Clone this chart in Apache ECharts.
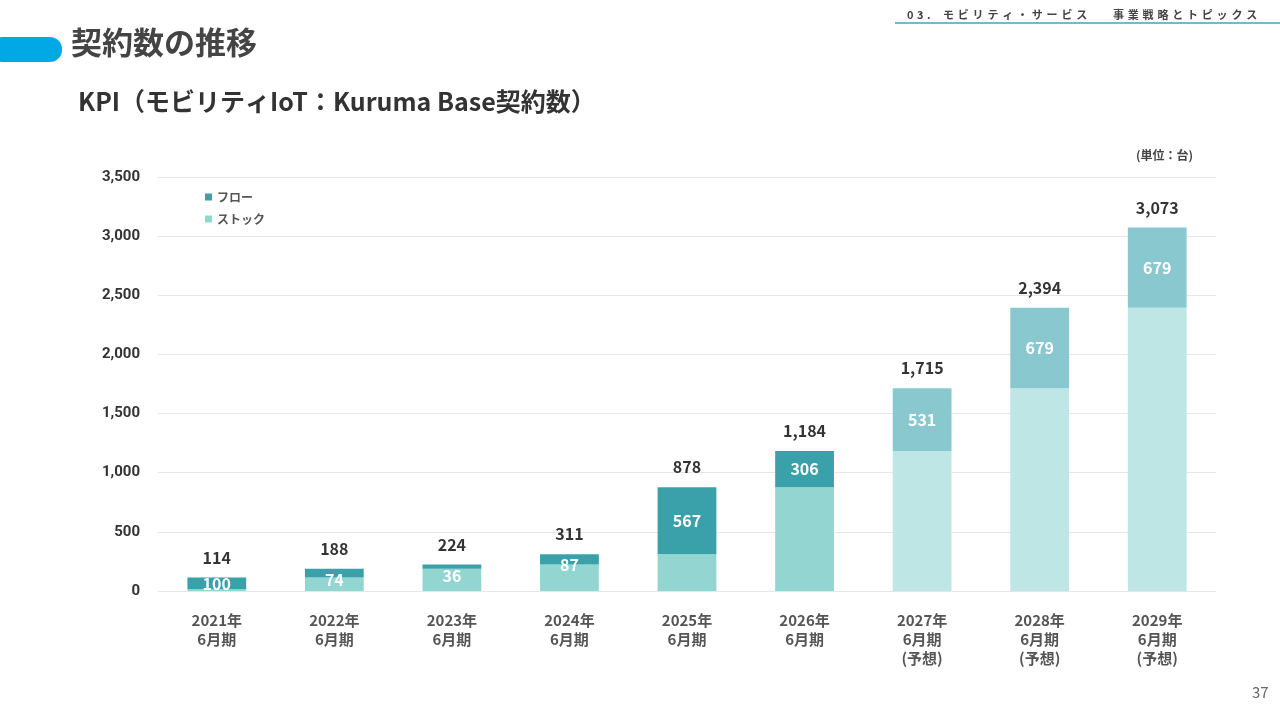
<!DOCTYPE html>
<html>
<head>
<meta charset="utf-8">
<script src="https://cdn.jsdelivr.net/npm/echarts@6/dist/echarts.min.js"></script>
<style>
html, body { margin: 0; padding: 0; background: #fff; }
#main { width: 1280px; height: 720px; }
</style>
</head>
<body>
<div id="main"></div>
<script>
var categories = ['2021年\n6月期', '2022年\n6月期', '2023年\n6月期', '2024年\n6月期', '2025年\n6月期',
    '2026年\n6月期', '2027年\n6月期\n(予想)', '2028年\n6月期\n(予想)', '2029年\n6月期\n(予想)'];
var flow = [100, 74, 36, 87, 567, 306, 531, 679, 679];
var stock = [14, 114, 188, 224, 311, 878, 1184, 1715, 2394];
var totals = [114, 188, 224, 311, 878, 1184, 1715, 2394, 3073];
var forecast = [false, false, false, false, false, false, true, true, true];

var font = '"Noto Sans CJK JP", "Noto Sans", sans-serif';

// thin flow bands: the value label sits a little below the band, as in the slide
var flowLabelShift = { 1: 7, 2: 9, 3: 6 };

var chart = echarts.init(document.getElementById('main'));

// letter-spaced header, one glyph at a time
var headerText = '03. モビリティ・サービス　事業戦略とトピックス';
var headerGlyphs = [];
var hx = 907;
headerText.split('').forEach(function (ch) {
    if (ch === ' ') { hx += 6; return; }
    if (ch === '　') { hx += 22; return; }
    headerGlyphs.push({
        type: 'text', x: hx, y: 15,
        style: { text: ch, font: 'bold 11px ' + font, fill: '#444', verticalAlign: 'middle' }
    });
    hx += ch.charCodeAt(0) < 128 ? 10 : 14.8;
});

var option = {
    backgroundColor: '#fff',
    textStyle: { fontFamily: font },
    animation: false,
    graphic: [
        { type: 'rect', shape: { x: -10, y: 37, width: 72, height: 25, r: 12 }, style: { fill: '#00a8e6' } },
        { type: 'text', left: 71, top: 27, style: { text: '契約数の推移', font: 'bold 31px ' + font, fill: '#444' } },
        { type: 'text', left: 78, top: 89, style: { text: 'KPI（モビリティIoT：Kuruma Base契約数）', font: 'bold 25px ' + font, fill: '#333' } },
        { type: 'group', children: headerGlyphs },
        { type: 'line', shape: { x1: 895, y1: 23, x2: 1280, y2: 23 }, style: { stroke: '#3aa6bd', lineWidth: 1.5 } },
        { type: 'text', left: 1136, top: 149, style: { text: '(単位：台)', font: 'bold 12px ' + font, fill: '#444' } },
        { type: 'text', left: 1252, top: 685, style: { text: '37', font: '15px ' + font, fill: '#666' } }
    ],
    grid: { left: 158, right: 64, top: 177, bottom: 129 },
    legend: {
        data: ['フロー', 'ストック'],
        orient: 'vertical',
        left: 200,
        top: 186,
        itemWidth: 7,
        itemHeight: 7,
        itemGap: 10,
        icon: 'rect',
        textStyle: { color: '#555', fontSize: 12, fontWeight: 'bold', fontFamily: font }
    },
    xAxis: {
        type: 'category',
        data: categories,
        axisLine: { show: false },
        axisTick: { show: false },
        axisLabel: { color: '#555', fontSize: 15, fontWeight: 'bold', lineHeight: 19, margin: 20, fontFamily: font }
    },
    yAxis: {
        type: 'value',
        min: 0,
        max: 3500,
        interval: 500,
        axisLabel: {
            color: '#333', fontSize: 15, fontWeight: 'bold', margin: 18, fontFamily: 'Roboto, ' + font,
            formatter: function (v) { return v.toLocaleString('en-US'); }
        },
        splitLine: { lineStyle: { color: '#e6e6e6' } }
    },
    series: [
        {
            name: 'ストック',
            type: 'bar',
            stack: 'total',
            barWidth: '50%',
            itemStyle: { color: '#93d6d1' },
            data: stock.map(function (v, i) {
                return { value: v, itemStyle: { color: forecast[i] ? '#bde6e4' : '#93d6d1' } };
            })
        },
        {
            name: 'フロー',
            type: 'bar',
            stack: 'total',
            itemStyle: { color: '#3aa0aa' },
            label: { show: true, position: 'inside', color: '#fff', fontSize: 16, fontWeight: 'bold', fontFamily: font },
            data: flow.map(function (v, i) {
                var item = { value: v, itemStyle: { color: forecast[i] ? '#8ac8cf' : '#3aa0aa' } };
                if (flowLabelShift[i]) item.label = { offset: [0, flowLabelShift[i]] };
                return item;
            })
        },
        {
            name: '合計',
            type: 'bar',
            stack: 'total',
            data: totals.map(function () { return 0; }),
            label: {
                show: true, position: 'top', distance: 12, color: '#333', fontSize: 16, fontWeight: 'bold', fontFamily: font,
                formatter: function (p) { return totals[p.dataIndex].toLocaleString('en-US'); }
            }
        }
    ]
};

chart.setOption(option);
</script>
</body>
</html>
